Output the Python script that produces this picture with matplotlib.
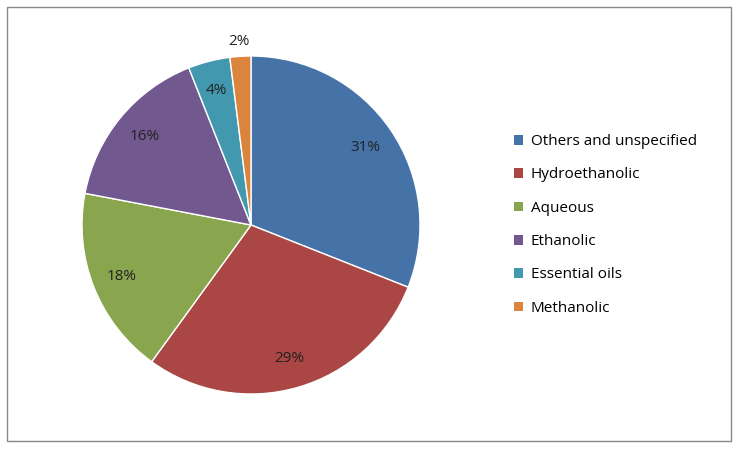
import matplotlib
matplotlib.use("Agg")
import matplotlib.pyplot as plt
from matplotlib.patches import Rectangle, Patch
import numpy as np

categories = ["Others and unspecified", "Hydroethanolic", "Aqueous", "Ethanolic", "Essential oils", "Methanolic"]
values = [31, 29, 18, 16, 4, 2]
colors = ["#4572A7", "#AA4643", "#89A54E", "#71588F", "#4198AF", "#DB843D"]

plt.rcParams['font.family'] = ['Open Sans', 'DejaVu Sans']
fig = plt.figure(figsize=(7.39, 4.5), dpi=100)
fig.patches.append(Rectangle((7/739, 9/450), 724/739, 434/450, transform=fig.transFigure,
                             fill=False, edgecolor="#888888", lw=1))
ax = fig.add_axes([82/739, 56/450, 338/739, 338/450])
wedges, texts, autotexts = ax.pie(values, colors=colors, startangle=90, counterclock=False,
                                  autopct='%d%%', pctdistance=0.82,
                                  wedgeprops=dict(edgecolor="white", linewidth=1),
                                  textprops=dict(fontsize=11, color="#222222"))
ang = np.deg2rad(90 - 360 * (sum(values[:-1]) + values[-1] / 2) / 100)
autotexts[-1].set_position((1.09 * np.cos(ang), 1.09 * np.sin(ang)))
ax.set_xlim(-1, 1)
ax.set_ylim(-1, 1)
ax.set_aspect('equal')
handles = [Patch(facecolor=c) for c in colors]
fig.legend(handles, categories, loc='center left', bbox_to_anchor=(500/739, 0.5), frameon=False,
           fontsize=11, handlelength=0.6, handleheight=0.6, labelspacing=1.2, handletextpad=0.5)
fig.savefig("out.png", dpi=100)
